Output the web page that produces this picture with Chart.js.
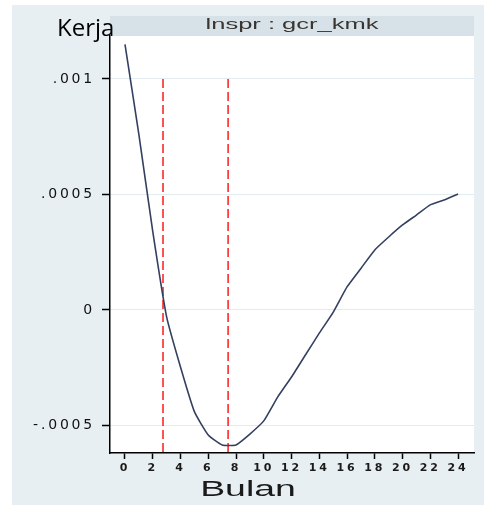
<!DOCTYPE html>
<html>
<head>
<meta charset="utf-8">
<script src="https://cdn.jsdelivr.net/npm/chart.js@4.4.1/dist/chart.umd.min.js"></script>
<style>
  html, body { margin: 0; padding: 0; background: #fff; }
  #wrap { width: 484px; height: 505px; }
</style>
</head>
<body>
<div id="wrap"><canvas id="irf-chart" width="484" height="505"></canvas></div>
<script>
// impulse response lnspr : gcr_kmk
const months = [0, 1, 2, 3, 4, 5, 6, 7, 8, 9, 10, 11, 12, 13, 14, 15, 16, 17, 18, 19, 20, 21, 22, 23, 24];
const response = [0.00115, 0.00076, 0.00034, -0.00003, -0.000247, -0.00044, -0.000541, -0.000584, -0.000584,
    -0.000537, -0.00048, -0.000377, -0.00029, -0.000195, -0.0001, -0.00001, 0.0001, 0.00018, 0.00026,
    0.000316, 0.000368, 0.000411, 0.000455, 0.000476, 0.000502];
const markerMonths = [2.74, 7.43];   // red dashed lines
const markerTop = 0.001;
const xTicks = [0, 2, 4, 6, 8, 10, 12, 14, 16, 18, 20, 22, 24];
const yTicks = [-0.0005, 0, 0.0005, 0.001];
const yTickLabels = ['-.0005', '0', '.0005', '.001'];
const xRange = [-1.08, 25.15];
const yRange = [-0.000619, 0.001186];

const panelPlugin = {
    id: 'panel',
    beforeDraw(chart) {
        const { ctx, chartArea: a } = chart;
        ctx.save();
        ctx.fillStyle = '#ffffff';
        ctx.fillRect(0, 0, chart.width, chart.height);
        ctx.fillStyle = '#e7eff2';
        ctx.fillRect(12, 5, chart.width - 12, chart.height - 5);
        ctx.fillStyle = '#d6e2e8';
        ctx.fillRect(a.left, a.top - 20, a.right - a.left, 20);
        ctx.fillStyle = '#ffffff';
        ctx.fillRect(a.left, a.top, a.right - a.left, a.bottom - a.top);
        ctx.restore();
        // stretched look of the tick labels
        ctx.letterSpacing = '2.8px';
    },
    afterDraw(chart) {
        const { ctx, chartArea: a } = chart;
        ctx.save();
        ctx.letterSpacing = '0px';
        // header title
        ctx.fillStyle = '#3a3530';
        ctx.font = '15px "Liberation Sans", Arial, sans-serif';
        ctx.textAlign = 'center';
        ctx.textBaseline = 'middle';
        ctx.save();
        ctx.translate((a.left + a.right) / 2, a.top - 11);
        ctx.scale(1.7, 1);
        ctx.fillText('lnspr : gcr_kmk', 0, 0);
        ctx.restore();
        // x axis title
        ctx.save();
        ctx.fillStyle = '#1a1a1a';
        ctx.font = '22px "Liberation Sans", Arial, sans-serif';
        ctx.translate(248, 490);
        ctx.scale(1.7, 1);
        ctx.fillText('Bulan', 0, 0);
        ctx.restore();
        // overlaid label
        ctx.fillStyle = '#000';
        ctx.font = '24px "Open Sans", sans-serif';
        ctx.textAlign = 'left';
        ctx.textBaseline = 'alphabetic';
        ctx.fillText('Kerja', 57, 36);
        ctx.restore();
    }
};

const markerSets = markerMonths.map(m => ({
    data: [{ x: m, y: markerTop }, { x: m, y: yRange[0] }],
    borderColor: '#ff1a1a',
    borderWidth: 1.5,
    borderDash: [9, 4],
    pointRadius: 0,
    fill: false
}));

const ctx = document.getElementById('irf-chart').getContext('2d');

const irfChart = new Chart(ctx, {
    type: 'line',
    data: {
        datasets: [
            {
                data: months.map((m, i) => ({ x: m, y: response[i] })),
                borderColor: '#34405f',
                borderWidth: 1.6,
                pointRadius: 0,
                tension: 0.15,
                fill: false
            },
            ...markerSets
        ]
    },
    options: {
        responsive: false,
        animation: false,
        layout: { padding: { top: 36, right: 10, bottom: 0, left: 0 } },
        plugins: {
            legend: { display: false },
            tooltip: { enabled: false }
        },
        scales: {
            x: {
                type: 'linear',
                min: xRange[0],
                max: xRange[1],
                afterBuildTicks: s => { s.ticks = xTicks.map(v => ({ value: v })); },
                afterFit: s => { s.height = 52; },
                ticks: {
                    color: '#1a1a1a',
                    font: { family: '"DejaVu Sans", sans-serif', size: 11, weight: 'bold' },
                    padding: 3,
                    maxRotation: 0,
                    autoSkip: false
                },
                grid: { drawOnChartArea: false, tickLength: 6, tickColor: '#000', tickWidth: 1.5 },
                border: { color: '#000', width: 1.5 }
            },
            y: {
                min: yRange[0],
                max: yRange[1],
                afterBuildTicks: s => { s.ticks = yTicks.map(v => ({ value: v })); },
                afterFit: s => { s.width = 110; },
                ticks: {
                    color: '#111',
                    font: { family: '"DejaVu Sans", sans-serif', size: 14 },
                    padding: 7,
                    callback: (v, i) => yTickLabels[i]
                },
                grid: { color: '#e1ebf0', lineWidth: 1, tickLength: 8, tickColor: '#000', tickWidth: 1.5 },
                border: { color: '#000', width: 1.5 }
            }
        }
    },
    plugins: [panelPlugin]
});
</script>
</body>
</html>
